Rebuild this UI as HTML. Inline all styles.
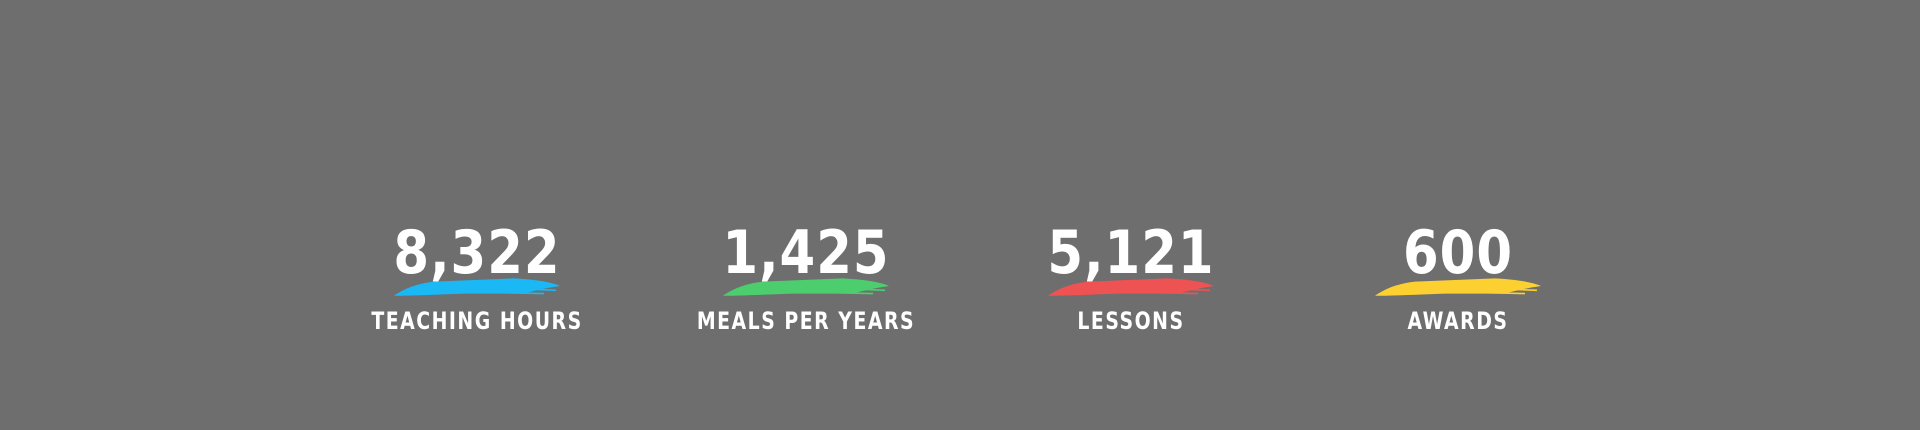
<!DOCTYPE html>
<html><head><meta charset="utf-8"><style>
html,body{margin:0;padding:0}
body{width:1920px;height:430px;background:#6e6e6e;position:relative;overflow:hidden;font-family:"DejaVu Sans","Liberation Sans",sans-serif}
.stat{position:absolute;top:221px;width:300px;margin-left:-150px;text-align:center;color:#fff}
.num{font-family:"DejaVu Sans Condensed","DejaVu Sans",sans-serif;font-weight:bold;font-size:57px;line-height:64px;letter-spacing:1px;height:64px;transform:scaleY(1.05)}
.brush{display:block;margin:-12px auto 0;width:166px;height:26px}
.lbl{font-family:"DejaVu Sans Condensed","DejaVu Sans",sans-serif;font-weight:bold;font-size:21px;letter-spacing:1.5px;margin-top:10px;transform:scaleY(1.15)}
</style></head><body>
<div class="stat" style="left:477px">
 <div class="num">8,322</div>
 <svg class="brush" viewBox="0 0 166 24" preserveAspectRatio="none"><path d="M0 21 C8 16 20 10 40 8 L120 5 C140 6 156 8 166 12 C150 14 140 17 128 19 L70 19 C40 20 18 21 0 21Z" fill="#1ab8f5"/><path d="M110 14 L162 16 M100 18 L150 19" stroke="#1ab8f5" stroke-width="1.5"/></svg>
 <div class="lbl">TEACHING HOURS</div>
</div>
<div class="stat" style="left:806px">
 <div class="num">1,425</div>
 <svg class="brush" viewBox="0 0 166 24" preserveAspectRatio="none"><path d="M0 21 C8 16 20 10 40 8 L120 5 C140 6 156 8 166 12 C150 14 140 17 128 19 L70 19 C40 20 18 21 0 21Z" fill="#4cce6e"/><path d="M110 14 L162 16 M100 18 L150 19" stroke="#4cce6e" stroke-width="1.5"/></svg>
 <div class="lbl">MEALS PER YEARS</div>
</div>
<div class="stat" style="left:1131px">
 <div class="num">5,121</div>
 <svg class="brush" viewBox="0 0 166 24" preserveAspectRatio="none"><path d="M0 21 C8 16 20 10 40 8 L120 5 C140 6 156 8 166 12 C150 14 140 17 128 19 L70 19 C40 20 18 21 0 21Z" fill="#ee5253"/><path d="M110 14 L162 16 M100 18 L150 19" stroke="#ee5253" stroke-width="1.5"/></svg>
 <div class="lbl">LESSONS</div>
</div>
<div class="stat" style="left:1458px">
 <div class="num">600</div>
 <svg class="brush" viewBox="0 0 166 24" preserveAspectRatio="none"><path d="M0 21 C8 16 20 10 40 8 L120 5 C140 6 156 8 166 12 C150 14 140 17 128 19 L70 19 C40 20 18 21 0 21Z" fill="#fcd030"/><path d="M110 14 L162 16 M100 18 L150 19" stroke="#fcd030" stroke-width="1.5"/></svg>
 <div class="lbl">AWARDS</div>
</div>
</body></html>
